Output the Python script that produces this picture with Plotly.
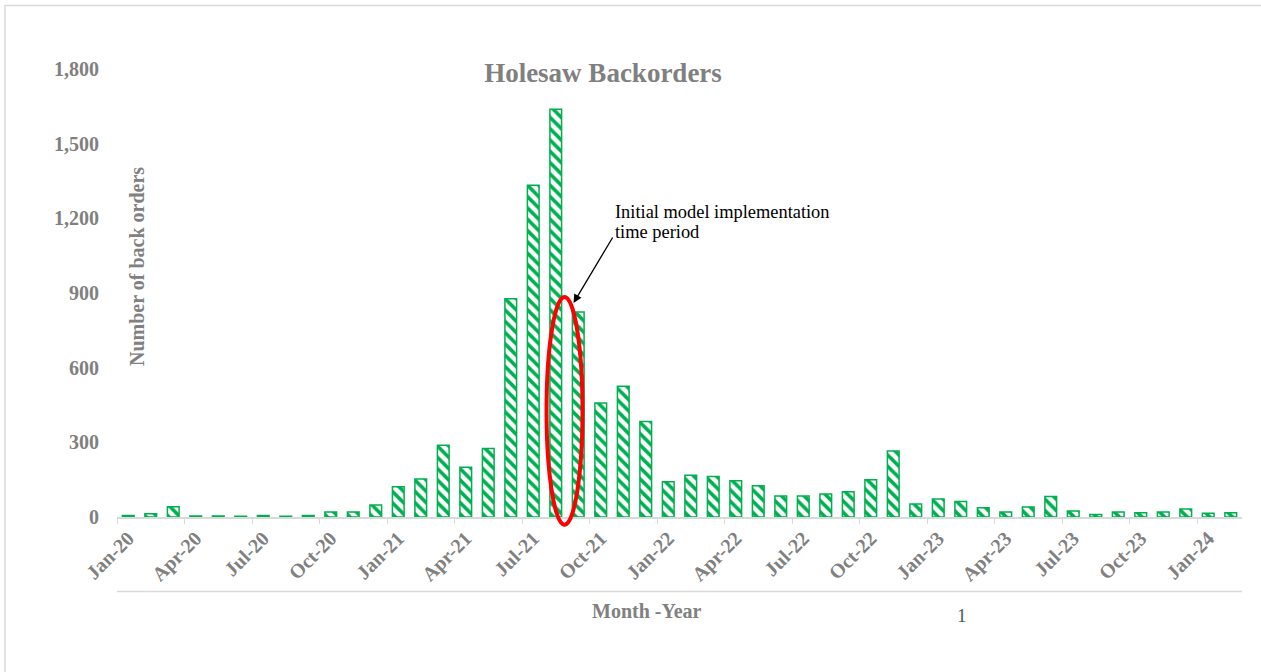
import plotly.graph_objects as go

months = ["Jan", "Feb", "Mar", "Apr", "May", "Jun", "Jul", "Aug", "Sep", "Oct", "Nov", "Dec"]
years = ["20", "21", "22", "23", "24"]
categories = [f"{m}-{y}" for y in years for m in months][:50]

backorders = [
    6, 13, 41, 4, 4, 3, 6, 3, 6, 20, 20, 48,
    122, 153, 288, 200, 275, 877, 1333, 1638, 824, 458, 525, 384,
    142, 168, 163, 146, 126, 84, 84, 92, 101, 150, 265, 52,
    72, 62, 37, 20, 40, 82, 24, 10, 20, 17, 20, 32,
    15, 17,
]

title_text = "Holesaw Backorders"
y_title = "Number of back orders"
x_title = "Month -Year"
note_lines = ["Initial model implementation", "time period"]
y_ticks = [0, 300, 600, 900, 1200, 1500, 1800]

GREEN = "#00B050"
GRAY = "#808080"
SERIF = "Liberation Serif, Times New Roman, serif"

fig = go.Figure()
fig.add_trace(go.Bar(
    x=categories, y=backorders,
    marker=dict(
        color="white",
        line=dict(color=GREEN, width=1.5),
        pattern=dict(shape="\\", fgcolor=GREEN, bgcolor="white", fgopacity=1,
                     size=8, solidity=0.45, fillmode="overlay"),
    ),
    showlegend=False,
))

W, H = 1261, 672
L, R, T, B = 117, 19, 69, 155
pw, ph = W - L - R, H - T - B

def px_to_paper_x(px):
    return (px - L) / pw

def px_to_paper_y(py):
    return (H - B - py) / ph

fig.update_layout(
    width=W, height=H,
    margin=dict(l=L, r=R, t=T, b=B),
    plot_bgcolor="white", paper_bgcolor="white",
    bargap=0.48,
    font=dict(family=SERIF, color=GRAY),
    title=dict(text=f"<b>{title_text}</b>", font=dict(size=27, color=GRAY, family=SERIF),
               x=px_to_paper_x(603), xref="paper", xanchor="center",
               y=1 - 73 / H, yref="container", yanchor="middle"),
    xaxis=dict(
        type="category", range=[-0.5, 49.5],
        tickmode="linear", tick0=0, dtick=3, tickson="boundaries",
        ticks="outside", ticklen=5, tickcolor="#D9D9D9", tickwidth=1,
        showline=True, linecolor="#D9D9D9", linewidth=1.5,
        showgrid=False, tickangle=-45,
        tickfont=dict(size=20, color=GRAY, family=SERIF, weight="bold"),
    ),
    yaxis=dict(
        range=[0, 1800], tickvals=y_ticks, tickformat=",",
        showgrid=False, showline=False, zeroline=False,
        ticks="outside", ticklen=13, tickcolor="rgba(0,0,0,0)",
        tickfont=dict(size=20, color=GRAY, family=SERIF, weight="bold"),
    ),
)

# y-axis title (sits inside the plot area in the original)
fig.add_annotation(text=f"<b>{y_title}</b>", xref="paper", yref="paper",
                   x=px_to_paper_x(137), y=px_to_paper_y(267), textangle=-90,
                   showarrow=False, font=dict(size=20, color=GRAY, family=SERIF),
                   xanchor="center", yanchor="middle")
# x-axis title
fig.add_annotation(text=f"<b>{x_title}</b>", xref="paper", yref="paper",
                   x=px_to_paper_x(647), y=px_to_paper_y(611),
                   showarrow=False, font=dict(size=20, color=GRAY, family=SERIF),
                   xanchor="center", yanchor="middle")
# stray legend label
fig.add_annotation(text="1", xref="paper", yref="paper",
                   x=px_to_paper_x(962), y=px_to_paper_y(615),
                   showarrow=False, font=dict(size=19, color="#595959", family=SERIF),
                   xanchor="center", yanchor="middle")

# callout text
for i, line in enumerate(note_lines):
    fig.add_annotation(text=line, xref="paper", yref="paper",
                       x=px_to_paper_x(613), y=px_to_paper_y(200 + 20 * i),
                       showarrow=False, font=dict(size=18.4, color="black", family=SERIF),
                       xanchor="left", yanchor="top")
# arrow
fig.add_annotation(text="", x=19.79, y=860, xref="x", yref="y",
                   ax=40, ay=-67, axref="pixel", ayref="pixel",
                   showarrow=True, arrowhead=2, arrowsize=1.3, arrowwidth=1.3,
                   arrowcolor="black")

# red ellipse around implementation period
fig.add_shape(type="circle", xref="x", yref="paper",
              x0=18.59, x1=20.19,
              y0=px_to_paper_y(524.7), y1=px_to_paper_y(297),
              line=dict(color="#FF0000", width=4), fillcolor="rgba(0,0,0,0)")

# frame lines
fig.add_shape(type="line", xref="paper", yref="paper",
              x0=0, x1=1, y0=px_to_paper_y(591.5), y1=px_to_paper_y(591.5),
              line=dict(color="#D9D9D9", width=1.5))
fig.add_shape(type="line", xref="paper", yref="paper",
              x0=px_to_paper_x(5), x1=px_to_paper_x(5), y0=px_to_paper_y(5), y1=px_to_paper_y(672),
              line=dict(color="#D9D9D9", width=1.5))
fig.add_shape(type="line", xref="paper", yref="paper",
              x0=px_to_paper_x(5), x1=px_to_paper_x(1261), y0=px_to_paper_y(5.5), y1=px_to_paper_y(5.5),
              line=dict(color="#D9D9D9", width=1.5))

fig.write_html("out.html")
